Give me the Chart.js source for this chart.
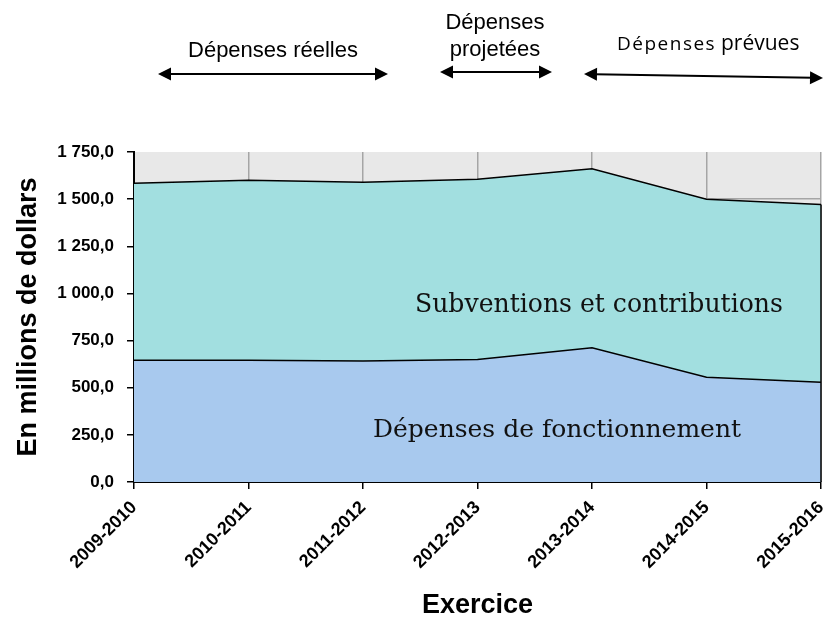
<!DOCTYPE html>
<html>
<head>
<meta charset="utf-8">
<script src="https://cdn.jsdelivr.net/npm/chart.js@4/dist/chart.umd.min.js"></script>
<style>
html,body{margin:0;padding:0;background:#fff;}
#wrap{width:824px;height:618px;}
</style>
</head>
<body>
<div id="wrap"><canvas id="c" width="824" height="618"></canvas></div>
<script>
const exercices = ['2009-2010','2010-2011','2011-2012','2012-2013','2013-2014','2014-2015','2015-2016'];
const depensesFonctionnement = [645, 645, 642, 650, 712, 555, 529];
const subventionsContributions = [939, 955, 948, 956, 949, 944, 943];
const yTicks = [0, 250, 500, 750, 1000, 1250, 1500, 1750];

function fmt(v){
  const s = v.toFixed(1).replace('.', ',');
  const parts = s.split(',');
  const ip = parts[0].replace(/\B(?=(\d{3})+(?!\d))/g, ' ');
  return ip + ',' + parts[1];
}

function arrow(ctx, x1, y1, x2, y2){
  const L = 13, W = 6.5;
  const a = Math.atan2(y2 - y1, x2 - x1);
  ctx.save();
  ctx.strokeStyle = '#000'; ctx.fillStyle = '#000'; ctx.lineWidth = 2;
  ctx.beginPath();
  ctx.moveTo(x1 + Math.cos(a)*L*0.8, y1 + Math.sin(a)*L*0.8);
  ctx.lineTo(x2 - Math.cos(a)*L*0.8, y2 - Math.sin(a)*L*0.8);
  ctx.stroke();
  [[x1,y1,a+Math.PI],[x2,y2,a]].forEach(([x,y,ang])=>{
    ctx.beginPath();
    ctx.moveTo(x, y);
    ctx.lineTo(x - Math.cos(ang)*L - Math.sin(ang)*W, y - Math.sin(ang)*L + Math.cos(ang)*W);
    ctx.lineTo(x - Math.cos(ang)*L + Math.sin(ang)*W, y - Math.sin(ang)*L - Math.cos(ang)*W);
    ctx.closePath();
    ctx.fill();
  });
  ctx.restore();
}

function fitText(ctx, text, family, targetW, x, baseline){
  ctx.font = '100px ' + family;
  const w = ctx.measureText(text).width;
  const size = 100 * targetW / w;
  ctx.font = size.toFixed(2) + 'px ' + family;
  ctx.textAlign = 'left';
  ctx.textBaseline = 'alphabetic';
  ctx.fillText(text, x, baseline);
}

const decor = {
  id: 'decor',
  beforeDraw(chart){
    const ctx = chart.ctx, a = chart.chartArea;
    ctx.save();
    ctx.fillStyle = '#ffffff';
    ctx.fillRect(0, 0, chart.width, chart.height);
    ctx.fillStyle = '#e8e8e8';
    ctx.fillRect(a.left, a.top, a.right - a.left, a.bottom - a.top);
    ctx.restore();
  },
  afterDatasetsDraw(chart){
    const ctx = chart.ctx, a = chart.chartArea;
    const meta = chart.getDatasetMeta(1);
    const last = meta.data[meta.data.length - 1];
    ctx.save();
    ctx.strokeStyle = '#000'; ctx.lineWidth = 1.5;
    ctx.beginPath();
    ctx.moveTo(last.x, last.y);
    ctx.lineTo(last.x, a.bottom);
    ctx.stroke();
    ctx.fillStyle = '#111';
    fitText(ctx, 'Subventions et contributions', '"DejaVu Serif", "Liberation Serif", serif', 368, 415, 312);
    fitText(ctx, 'Dépenses de fonctionnement', '"DejaVu Serif", "Liberation Serif", serif', 368, 373, 437);
    ctx.restore();
  },
  afterDraw(chart){
    const ctx = chart.ctx;
    ctx.save();
    ctx.fillStyle = '#000';
    ctx.textAlign = 'center';
    ctx.textBaseline = 'alphabetic';
    ctx.font = '22px "Liberation Sans", Arial, sans-serif';
    ctx.fillText('Dépenses réelles', 273, 57);
    ctx.fillText('Dépenses', 495, 29);
    ctx.fillText('projetées', 495, 56);
    ctx.textAlign = 'left';
    ctx.font = '19px "Open Sans", sans-serif';
    ctx.letterSpacing = '1.5px';
    ctx.fillText('Dépenses', 617, 50);
    ctx.letterSpacing = '0px';
    ctx.font = '21px "Open Sans", sans-serif';
    ctx.fillText('prévues', 721, 50);
    arrow(ctx, 158, 74, 388, 74);
    arrow(ctx, 440, 72, 552, 72);
    arrow(ctx, 584, 74, 823, 78);
    ctx.restore();
  }
};

new Chart(document.getElementById('c'), {
  type: 'line',
  data: {
    labels: exercices,
    datasets: [
      {
        label: 'Dépenses de fonctionnement',
        data: depensesFonctionnement,
        backgroundColor: '#a8c9ee',
        borderColor: '#000',
        borderWidth: 1.5,
        fill: 'origin',
        pointRadius: 0,
        tension: 0
      },
      {
        label: 'Subventions et contributions',
        data: subventionsContributions,
        backgroundColor: '#a2dfe0',
        borderColor: '#000',
        borderWidth: 1.5,
        fill: '-1',
        pointRadius: 0,
        tension: 0
      }
    ]
  },
  options: {
    responsive: false,
    animation: false,
    devicePixelRatio: 1,
    layout: { padding: { top: 152, right: 3, left: 0, bottom: 0 } },
    plugins: { legend: { display: false }, tooltip: { enabled: false } },
    scales: {
      x: {
        offset: false,
        afterFit(s){ s.height = 136; s.paddingLeft = 0; s.paddingRight = 0; },
        grid: { color: '#a5a5a5', lineWidth: 1.5, tickColor: '#000', tickLength: 7, drawTicks: true },
        border: { color: '#000', width: 2 },
        ticks: {
          autoSkip: false, minRotation: 45, maxRotation: 45, padding: 8,
          color: '#000',
          font: { family: '"Liberation Sans", Arial, sans-serif', size: 18, weight: 'bold' }
        },
        title: {
          display: true, text: 'Exercice', color: '#000',
          font: { family: '"Liberation Sans", Arial, sans-serif', size: 27, weight: 'bold' },
          padding: { top: 0, bottom: -4 }
        }
      },
      y: {
        stacked: true,
        min: 0, max: 1750,
        afterFit(s){ s.width = 134; },
        afterBuildTicks(s){ s.ticks = yTicks.map(v => ({ value: v })); },
        grid: {
          color: (c) => (c.tick && c.tick.value === 1750) ? 'rgba(0,0,0,0)' : '#a5a5a5',
          lineWidth: 1.5, tickColor: '#000', tickLength: 7
        },
        border: { color: '#000', width: 2 },
        ticks: {
          padding: 13, color: '#000',
          font: { family: '"Liberation Sans", Arial, sans-serif', size: 17, weight: 'bold' },
          callback: (v) => fmt(v)
        },
        title: {
          display: true, text: 'En millions de dollars', color: '#000',
          font: { family: '"Liberation Sans", Arial, sans-serif', size: 27, weight: 'bold' },
          padding: { top: 12, bottom: 0 }
        }
      }
    }
  },
  plugins: [decor]
});
</script>
</body>
</html>
